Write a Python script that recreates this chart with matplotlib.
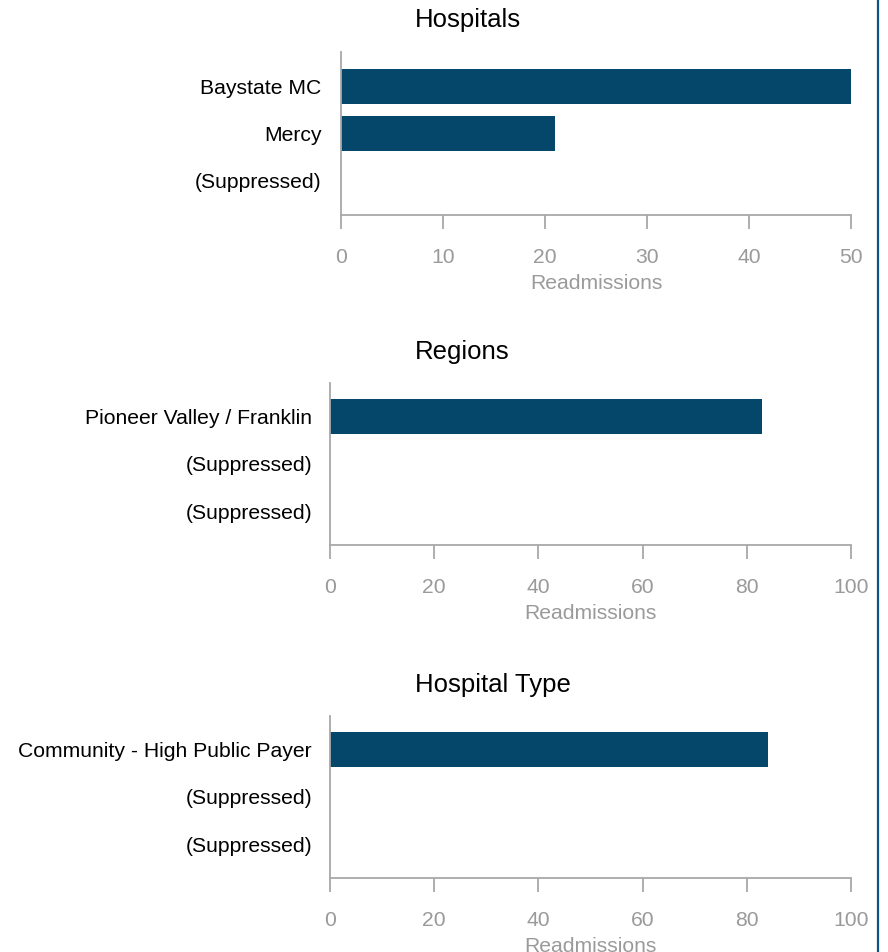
import matplotlib
matplotlib.use("Agg")
import matplotlib.pyplot as plt
from matplotlib.lines import Line2D

plt.rcParams['font.family'] = ['Liberation Sans', 'DejaVu Sans']

hosp_labels = ["Baystate MC", "Mercy", "(Suppressed)"]
hosp_values = [50, 21, 0]
hosp_ticks = [0, 10, 20, 30, 40, 50]

region_labels = ["Pioneer Valley / Franklin", "(Suppressed)", "(Suppressed)"]
region_values = [83, 0, 0]
region_ticks = [0, 20, 40, 60, 80, 100]

type_labels = ["Community - High Public Payer", "(Suppressed)", "(Suppressed)"]
type_values = [84, 0, 0]
type_ticks = [0, 20, 40, 60, 80, 100]

titles = ["Hospitals", "Regions", "Hospital Type"]
xlabel = "Readmissions"

W, H = 888, 952
fig = plt.figure(figsize=(W / 100, H / 100), dpi=100)

BAR = "#04476a"
GRAY = "#a8a8a8"
TICKC = "#9a9a9a"

# (left, top, right, bottom) in pixels
boxes = [(341, 52, 851, 215), (330, 383, 851, 545), (330, 716, 851, 878)]
title_y = [20, 352, 685]
ypads = [14, 13, 13]
sets = [(hosp_labels, hosp_values, hosp_ticks),
        (region_labels, region_values, region_ticks),
        (type_labels, type_values, type_ticks)]

for (l, t, r, b), (labels, vals, ticks), title, ty, yp in zip(boxes, sets, titles, title_y, ypads):
    ax = fig.add_axes([l / W, 1 - b / H, (r - l) / W, (b - t) / H])
    ypos = list(range(len(labels)))
    ax.barh(ypos, vals, height=0.74, color=BAR)
    ax.set_ylim(2.72, -0.72)
    ax.set_xlim(ticks[0], ticks[-1])
    ax.set_xticks(ticks)
    ax.set_xticklabels([str(v) for v in ticks])
    ax.set_yticks(ypos)
    ax.set_yticklabels(labels, fontsize=15.2, color="black")
    for s in ["top", "right"]:
        ax.spines[s].set_visible(False)
    for s in ["left", "bottom"]:
        ax.spines[s].set_color(GRAY)
        ax.spines[s].set_linewidth(1.3)
    ax.tick_params(axis="y", length=0, pad=yp)
    ax.tick_params(axis="x", length=10, width=1.3, color=GRAY, labelcolor=TICKC,
                   labelsize=15.2, pad=13.5, direction="out")
    ax.set_xlabel(xlabel, fontsize=15.2, color=TICKC, labelpad=5.5)
    fig.text(415 / W, 1 - ty / H, title, fontsize=18.5, color="black",
             ha="left", va="center")

fig.add_artist(Line2D([878 / W, 878 / W], [0, 1], color="#0a5384", linewidth=1.6,
                      transform=fig.transFigure))

fig.savefig("out.png", dpi=100, facecolor="white")
